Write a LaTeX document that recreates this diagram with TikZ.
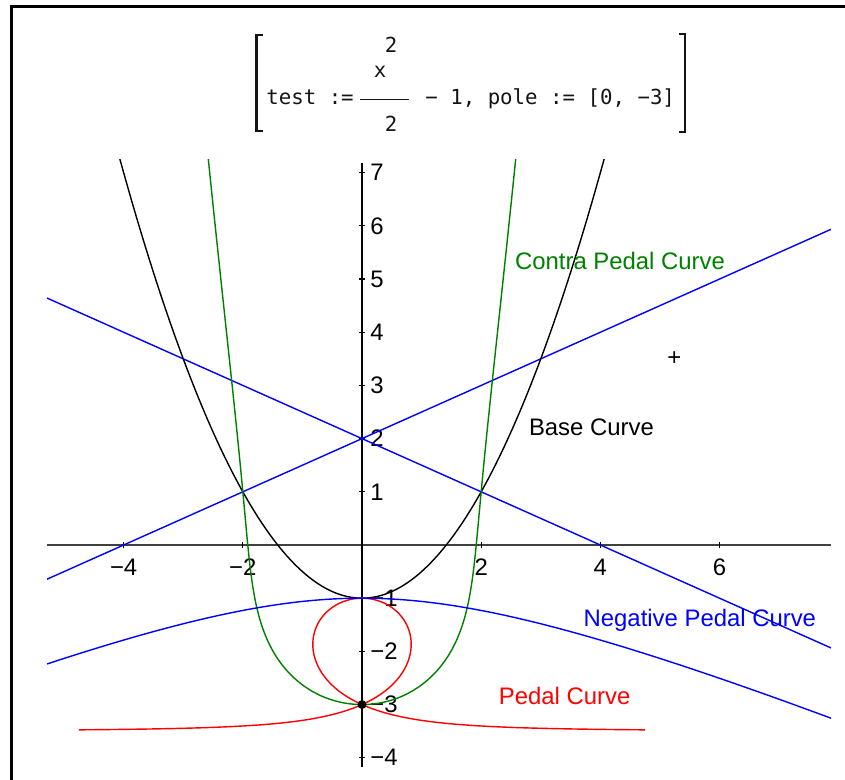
\documentclass[tikz,border=0pt]{standalone}
\usepackage{fontspec}
\setmainfont{Liberation Sans}
\newfontfamily\titlefont{DejaVu Sans Mono}
\usetikzlibrary{positioning}
\definecolor{mBlue}{RGB}{0,0,255}
\definecolor{mRed}{RGB}{255,0,0}
\definecolor{mGreen}{RGB}{0,128,0}
\definecolor{mAxis}{RGB}{64,64,64}
\definecolor{mInk}{RGB}{20,20,20}

\begin{document}
\begin{tikzpicture}[
				x=0.02cm,y=-0.02cm,
				crv/.style={line width=0.8pt,line join=round},
				lbl/.style={font=\fontsize{13.6}{16}\selectfont,inner sep=0pt},
				num/.style={font=\fontsize{13.6}{16}\selectfont,inner sep=0pt,text=black},
				ttl/.style={font=\titlefont\fontsize{11.8}{14}\selectfont,inner sep=0pt,text=mInk},
				tk/.style={black,line width=0.7pt},
				dot/.style={circle,fill=black,inner sep=0pt,minimum size=0.18cm}
				]
				\useasboundingbox (0,0) rectangle (845,780);
				\draw[black,line width=1.7pt] (10,6.5) -- (845,6.5);
				\draw[black,line width=1.7pt] (11.5,5) -- (11.5,780);

				\node[ttl,anchor=base west] (lhs) at (266,105) {test :=};
				\node[ttl,anchor=base] (xnum) at (380,78) {x};
				\node[ttl,anchor=base] (xexp) at (391,53) {2};
				\node[ttl,anchor=base] (den) at (391,132) {2};
				\node[ttl,anchor=base west] (rhs) at (425,105) {− 1, pole := [0, −3]};
				\draw[mInk,line width=0.9pt] (360,99.3) -- (409,99.3);
				\draw[mInk,line width=1.6pt] (263,35) -- (256.5,35) -- (256.5,131) -- (263,131);
				\draw[mInk,line width=1.6pt] (679,34) -- (685,34) -- (685,132) -- (679,132);

				\begin{scope}[shift={(362,545)},x=1.192cm,y=1.064cm]
					\draw[mAxis,line width=0.9pt] (-5.285,0) -- (7.869,0);
					\draw[black,line width=0.9pt] (0,-4.17) -- (0,7.18);
					\foreach \x in {-4,-2,2,4,6}
						\draw[tk] (\x,-0.06) -- (\x,0.06);
					\foreach \y in {-4,-3,-2,-1,1,2,3,4,5,6,7}
						\draw[tk] (-0.05,\y) -- (0.05,\y);
					\foreach \x/\t [count=\i] in {-4/−4,-2/−2,2/2,4/4,6/6}
						\node[num] (xl\i) at (\x,-0.42) {\t};
					\foreach \y/\t [count=\i] in {-4/−4,-3/−3,-2/−2,-1/−1,1/1,2/2,3/3,4/4,5/5,6/6,7/7}
						\node[num,anchor=west] (yl\i) at (0.134,\y) {\t};

					\begin{scope}
						\clip (-5.285,-4.35) rectangle (7.869,7.256);
						\draw[crv,mBlue] (-5.4,4.7) -- (8,-2);
						\draw[crv,mBlue] (-5.4,-0.7) -- (8,6);
						\draw[crv,black] plot[domain=-4.2:4.2,samples=121,variable=\t] (\t,{0.5*\t*\t-1});
						\draw[crv,mGreen] plot[domain=-4.2:4.2,samples=401,variable=\t]
							({\t*(1-(0.5*\t*\t-2)/(1+\t*\t))},{0.5*\t*\t-1+(0.5*\t*\t-2)/(1+\t*\t)});
						\draw[crv,mRed] plot[domain=-10:10,samples=601,variable=\t]
							({(0.5*\t*\t*\t-2*\t)/(1+\t*\t)},{(-3.5*\t*\t-1)/(1+\t*\t)});
						\draw[crv,mBlue] plot[domain=-1.2:1.2,samples=241,variable=\t]
							({4*\t+\t*\t*\t+\t*(8*\t*\t+3*\t*\t*\t*\t)/(8-2*\t*\t)},{-1-(8*\t*\t+3*\t*\t*\t*\t)/(8-2*\t*\t)});
					\end{scope}

					\node[dot] (pole) at (0,-3) {};
					\node[num] (mark) at (5.24,3.51) {+};
					\node[lbl,text=mGreen] (cpc) at (4.33,5.34) {Contra Pedal Curve};
					\node[lbl,text=black] (bc) at (3.85,2.21) {Base Curve};
					\node[lbl,text=mBlue] (npc) at (5.67,-1.41) {Negative Pedal Curve};
					\node[lbl,text=mRed] (pc) at (3.40,-2.84) {Pedal Curve};
				\end{scope}
			\end{tikzpicture}
\end{document}
